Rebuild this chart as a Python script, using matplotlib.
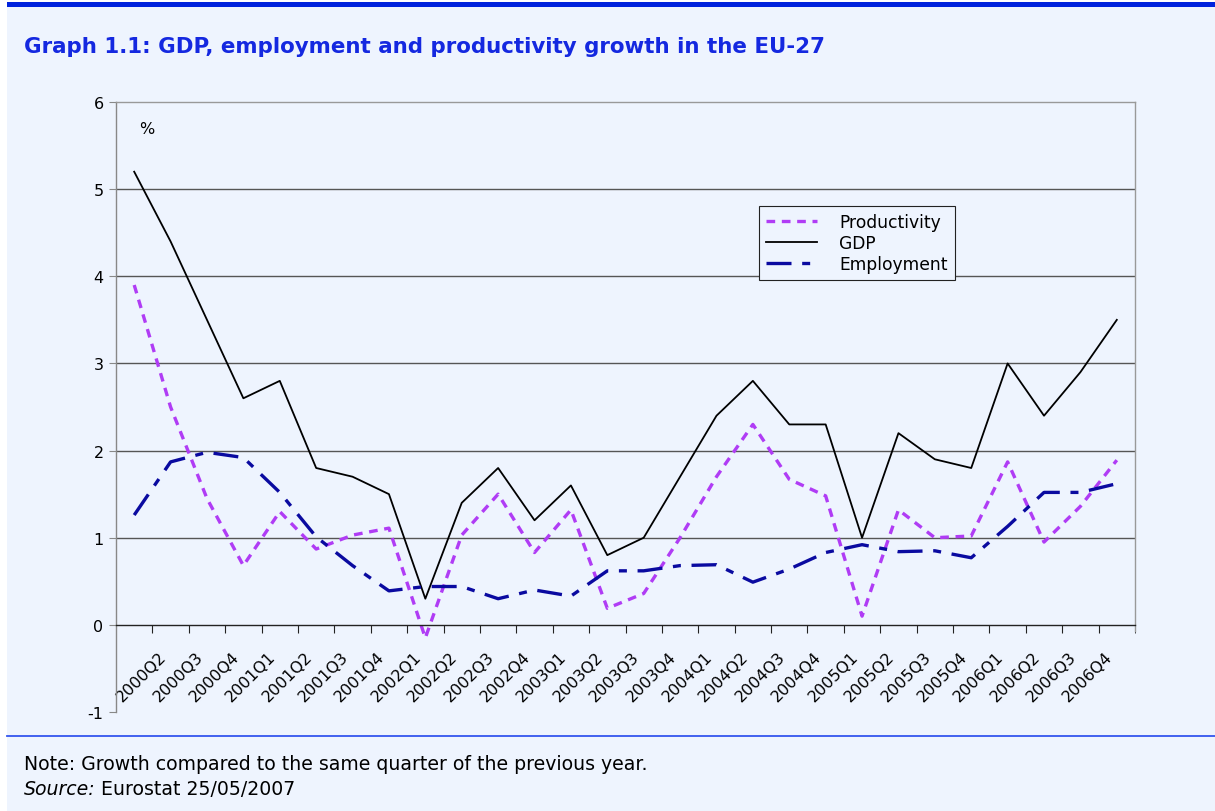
import numpy as np
import matplotlib
matplotlib.use('Agg')
import matplotlib.pyplot as plt
from matplotlib.patches import Rectangle
from matplotlib.transforms import ScaledTranslation

# 季度 2000Q1 .. 2006Q4
quarters = [f'{y}Q{q}' for y in range(2000, 2007) for q in range(1, 5)]
tick_labels = quarters[1:]  # 图上只显示 2000Q2 起

gdp = [5.2, 4.4, 3.5, 2.6, 2.8, 1.8, 1.7, 1.5, 0.3, 1.4, 1.8, 1.2, 1.6, 0.8,
       1.0, 1.7, 2.4, 2.8, 2.3, 2.3, 1.0, 2.2, 1.9, 1.8, 3.0, 2.4, 2.9, 3.5]
productivity = [3.9, 2.5, 1.45, 0.68, 1.3, 0.87, 1.03, 1.11, -0.15, 1.03, 1.5, 0.83, 1.32, 0.19,
                0.36, 1.0, 1.7, 2.3, 1.67, 1.48, 0.1, 1.32, 1.0, 1.02, 1.87, 0.95, 1.36, 1.89]
employment = [1.26, 1.87, 1.98, 1.92, 1.52, 1.01, 0.68, 0.39, 0.44, 0.44, 0.30, 0.40, 0.33, 0.62,
              0.62, 0.68, 0.69, 0.49, 0.64, 0.83, 0.92, 0.84, 0.85, 0.77, 1.13, 1.52, 1.52, 1.62]

BG = '#eef4fe'
TITLE_BLUE = '#1428e0'

plt.rcParams['font.family'] = ['DejaVu Sans']
plt.rcParams['axes.unicode_minus'] = False

fig = plt.figure(figsize=(12.15, 8.12), dpi=100, facecolor='white')

# 背景与顶部蓝条
fig.patches.append(Rectangle((7 / 1215, 0), 1, 1 - 3 / 812, transform=fig.transFigure,
                             facecolor=BG, edgecolor='none', zorder=-10))
fig.patches.append(Rectangle((7 / 1215, 1 - 8 / 812), 1, 5 / 812, transform=fig.transFigure,
                             facecolor='#0022dd', edgecolor='none', zorder=-9))
fig.lines.append(plt.Line2D([7 / 1215, 1], [1 - 737 / 812] * 2, transform=fig.transFigure,
                            color='#3355ee', lw=1.3))

fig.text(24 / 1215, 1 - 47 / 812, 'Graph 1.1: GDP, employment and productivity growth in the EU-27',
         color=TITLE_BLUE, fontsize=15.4, fontweight='bold', va='center', ha='left')
fig.text(24 / 1215, 1 - 765 / 812, 'Note: Growth compared to the same quarter of the previous year.',
         fontsize=13.6, va='center', ha='left')
src = fig.text(24 / 1215, 1 - 790 / 812, 'Source:', fontsize=13.6, style='italic',
               va='center', ha='left')
fig.canvas.draw()
src_right = src.get_window_extent().x1
fig.text((src_right + 5) / 1215, 1 - 790 / 812, 'Eurostat 25/05/2007', fontsize=13.6,
         va='center', ha='left')

ax = fig.add_axes([116 / 1215, 1 - 713 / 812, 1019 / 1215, 610 / 812])
ax.set_facecolor('none')

x = np.arange(len(quarters))
ax.plot(x, productivity, color='#b03cf5', lw=2.4, dashes=(2.6, 2.0), label='Productivity',
        solid_capstyle='butt', dash_capstyle='butt')
ax.plot(x, gdp, color='black', lw=1.3, label='GDP')
ax.plot(x, employment, color='#0a0aa0', lw=2.4, dashes=(7.5, 3.2, 2.4, 3.2), label='Employment',
        dash_capstyle='butt')

ax.set_xlim(-0.5, len(quarters) - 0.5)
ax.set_ylim(-1, 6)

for v in range(1, 6):
    ax.axhline(v, color='#555555', lw=1.0, zorder=0)

# 边框
ax.spines['top'].set_color('#999999')
ax.spines['right'].set_color('#999999')
ax.spines['right'].set_bounds(-0.07, 6)
ax.spines['left'].set_color('#888888')
ax.spines['bottom'].set_position(('data', 0))
ax.spines['bottom'].set_color('#222222')
for s in ax.spines.values():
    s.set_linewidth(1.0)

ax.set_yticks(range(-1, 7))
ax.tick_params(axis='y', length=5, color='#888888', labelsize=11.5, pad=4)

ax.set_xticks(np.arange(0.5, len(quarters) - 1, 1.0))
ax.set_xticks([len(quarters) - 0.5], minor=True)
ax.set_xticklabels(tick_labels, rotation=45, ha='right', va='top')
ax.tick_params(axis='x', which='both', length=6, color='#222222', labelsize=11.5, pad=11)
for lab in ax.get_xticklabels():
    lab.set_transform(lab.get_transform() + ScaledTranslation(0.17, 0, fig.dpi_scale_trans))

ax.text(0.030, 0.957, '%', transform=ax.transAxes, fontsize=11.5, ha='center', va='center')

leg = ax.legend(loc='upper left', bbox_to_anchor=(0.631, 0.830), fontsize=12.3, frameon=True,
                fancybox=False, edgecolor='#222222', facecolor=BG, framealpha=1,
                handlelength=3.0, borderpad=0.4, labelspacing=0.2, handletextpad=1.3,
                borderaxespad=0)
leg.get_frame().set_linewidth(0.8)

plt.savefig('out.png', dpi=100, facecolor=fig.get_facecolor())
